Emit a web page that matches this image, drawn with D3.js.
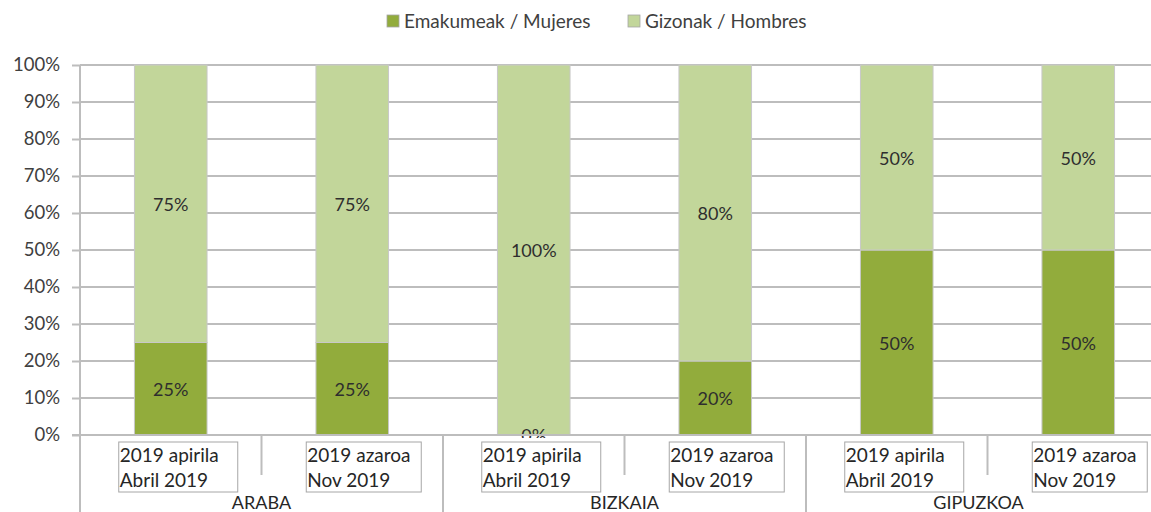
<!DOCTYPE html>
<html>
<head>
<meta charset="utf-8">
<script src="https://cdn.jsdelivr.net/npm/d3@7"></script>
<style>
  body { margin: 0; background: #fff; }
  svg { display: block; font-family: Lato, 'Open Sans', sans-serif; }
</style>
</head>
<body>
<div id="chart"></div>
<script>
const groups = ['ARABA', 'BIZKAIA', 'GIPUZKOA'];
const periodTop = ['2019 apirila', '2019 azaroa'];
const periodBottom = ['Abril 2019', 'Nov 2019'];
const mujeres = [25, 25, 0, 20, 50, 50];
const hombres = [75, 75, 100, 80, 50, 50];
const yTicks = [0, 10, 20, 30, 40, 50, 60, 70, 80, 90, 100];
const seriesNames = ['Emakumeak / Mujeres', 'Gizonak / Hombres'];

const colors = ['#92ac3c', '#c2d69a'];
const grid = '#bdbdbd';
const textColor = '#404040';
const width = 1151, height = 512;
const plotLeft = 80, plotRight = 1169, plotTop = 65, plotBottom = 435;

const rows = mujeres.map((m, i) => ({
  idx: i,
  group: groups[Math.floor(i / 2)],
  p: i % 2,
  mujeres: m,
  hombres: hombres[i]
}));

const svg = d3.select('#chart').append('svg')
  .attr('width', width).attr('height', height);

const x = d3.scaleBand()
  .domain(rows.map(d => d.idx))
  .range([plotLeft, plotRight])
  .paddingInner(0.6)
  .paddingOuter(0.3);
const y = d3.scaleLinear().domain([0, 100]).range([plotBottom, plotTop]);

// grid + y axis
const yAxis = svg.append('g')
  .attr('transform', `translate(${plotLeft},0)`)
  .call(d3.axisLeft(y).tickValues(yTicks).tickSize(8).tickFormat(d => d + '%'));
yAxis.select('.domain').remove();
yAxis.selectAll('.tick line').attr('stroke', grid).attr('stroke-width', 2);
yAxis.selectAll('.tick text')
  .attr('x', -20).attr('fill', textColor)
  .style('font-size', '18.5px').style('font-family', 'Lato, sans-serif');

svg.append('g').selectAll('line').data(yTicks).join('line')
  .attr('x1', plotLeft).attr('x2', plotRight)
  .attr('y1', d => y(d)).attr('y2', d => y(d))
  .attr('stroke', grid).attr('stroke-width', 2);

// stacked bars
const stack = d3.stack().keys(['mujeres', 'hombres']);
const layers = stack(rows);

const barG = svg.append('g');
layers.forEach((layer, li) => {
  barG.selectAll(null).data(layer).join('rect')
    .attr('x', d => x(d.data.idx))
    .attr('y', d => y(d[1]))
    .attr('width', x.bandwidth())
    .attr('height', d => y(d[0]) - y(d[1]))
    .attr('fill', colors[li])
    .attr('stroke', '#c8c8c8')
    .attr('stroke-width', 1);
});

// data labels
svg.append('clipPath').attr('id', 'plotclip')
  .append('rect').attr('x', 0).attr('y', 0).attr('width', width).attr('height', plotBottom + 3);

const lblG = svg.append('g').attr('clip-path', 'url(#plotclip)');
layers.forEach(layer => {
  lblG.selectAll(null).data(layer).join('text')
    .attr('x', d => x(d.data.idx) + x.bandwidth() / 2)
    .attr('y', d => (y(d[0]) + y(d[1])) / 2)
    .attr('text-anchor', 'middle')
    .attr('dominant-baseline', 'central')
    .attr('fill', '#2e2e2e')
    .style('font-size', '18px')
    .text(d => Math.round(d[1] - d[0]) + '%');
});

// axis line
svg.append('line')
  .attr('x1', plotLeft - 8).attr('x2', plotRight)
  .attr('y1', plotBottom).attr('y2', plotBottom)
  .attr('stroke', grid).attr('stroke-width', 2);

// group separators and inner ticks
const groupEdges = [0, 2, 4].map(i => x(i) - x.step() * x.paddingOuter());
svg.append('g').selectAll('line').data(groupEdges).join('line')
  .attr('x1', d => d).attr('x2', d => d)
  .attr('y1', (d, i) => i ? plotBottom : plotTop).attr('y2', height)
  .attr('stroke', grid).attr('stroke-width', 2);

const innerTicks = [1, 3, 5].map(i => x(i) - x.step() * x.paddingOuter());
svg.append('g').selectAll('line').data(innerTicks).join('line')
  .attr('x1', d => d).attr('x2', d => d)
  .attr('y1', plotBottom).attr('y2', 475)
  .attr('stroke', grid).attr('stroke-width', 2);

// category label boxes
const catG = svg.append('g').selectAll('g').data(rows).join('g')
  .attr('transform', d => `translate(${x(d.idx) + x.bandwidth() / 2 - (d.p ? 46 : 52)},442)`);
catG.append('rect')
  .attr('width', d => d.p ? 115 : 119).attr('height', 50)
  .attr('fill', '#fff').attr('stroke', '#a6a6a6').attr('stroke-width', 1);
catG.append('text')
  .attr('x', 1).attr('y', 20)
  .attr('fill', '#262626').style('font-size', '19px')
  .text(d => periodTop[d.p]);
catG.append('text')
  .attr('x', 1).attr('y', 45)
  .attr('fill', '#262626').style('font-size', '19px')
  .text(d => periodBottom[d.p]);

// group labels
svg.append('g').selectAll('text').data(groups).join('text')
  .attr('x', (d, i) => {
    const a = groupEdges[i];
    const b = Math.min(i < groups.length - 1 ? groupEdges[i + 1] : plotRight, width);
    return (a + b) / 2;
  })
  .attr('y', 509)
  .attr('text-anchor', 'middle')
  .attr('fill', '#262626')
  .style('font-size', '18px')
  .text(d => d);

// legend
const legend = svg.append('g').selectAll('g').data(seriesNames).join('g')
  .attr('transform', (d, i) => `translate(${i ? 628 : 387},15)`);
legend.append('rect')
  .attr('width', 12).attr('height', 12)
  .attr('fill', (d, i) => colors[i])
  .attr('stroke', '#a6a6a6').attr('stroke-width', 0.8);
legend.append('text')
  .attr('x', 17).attr('y', 12.5)
  .attr('fill', textColor)
  .style('font-size', '19px')
  .text(d => d);
</script>
</body>
</html>
